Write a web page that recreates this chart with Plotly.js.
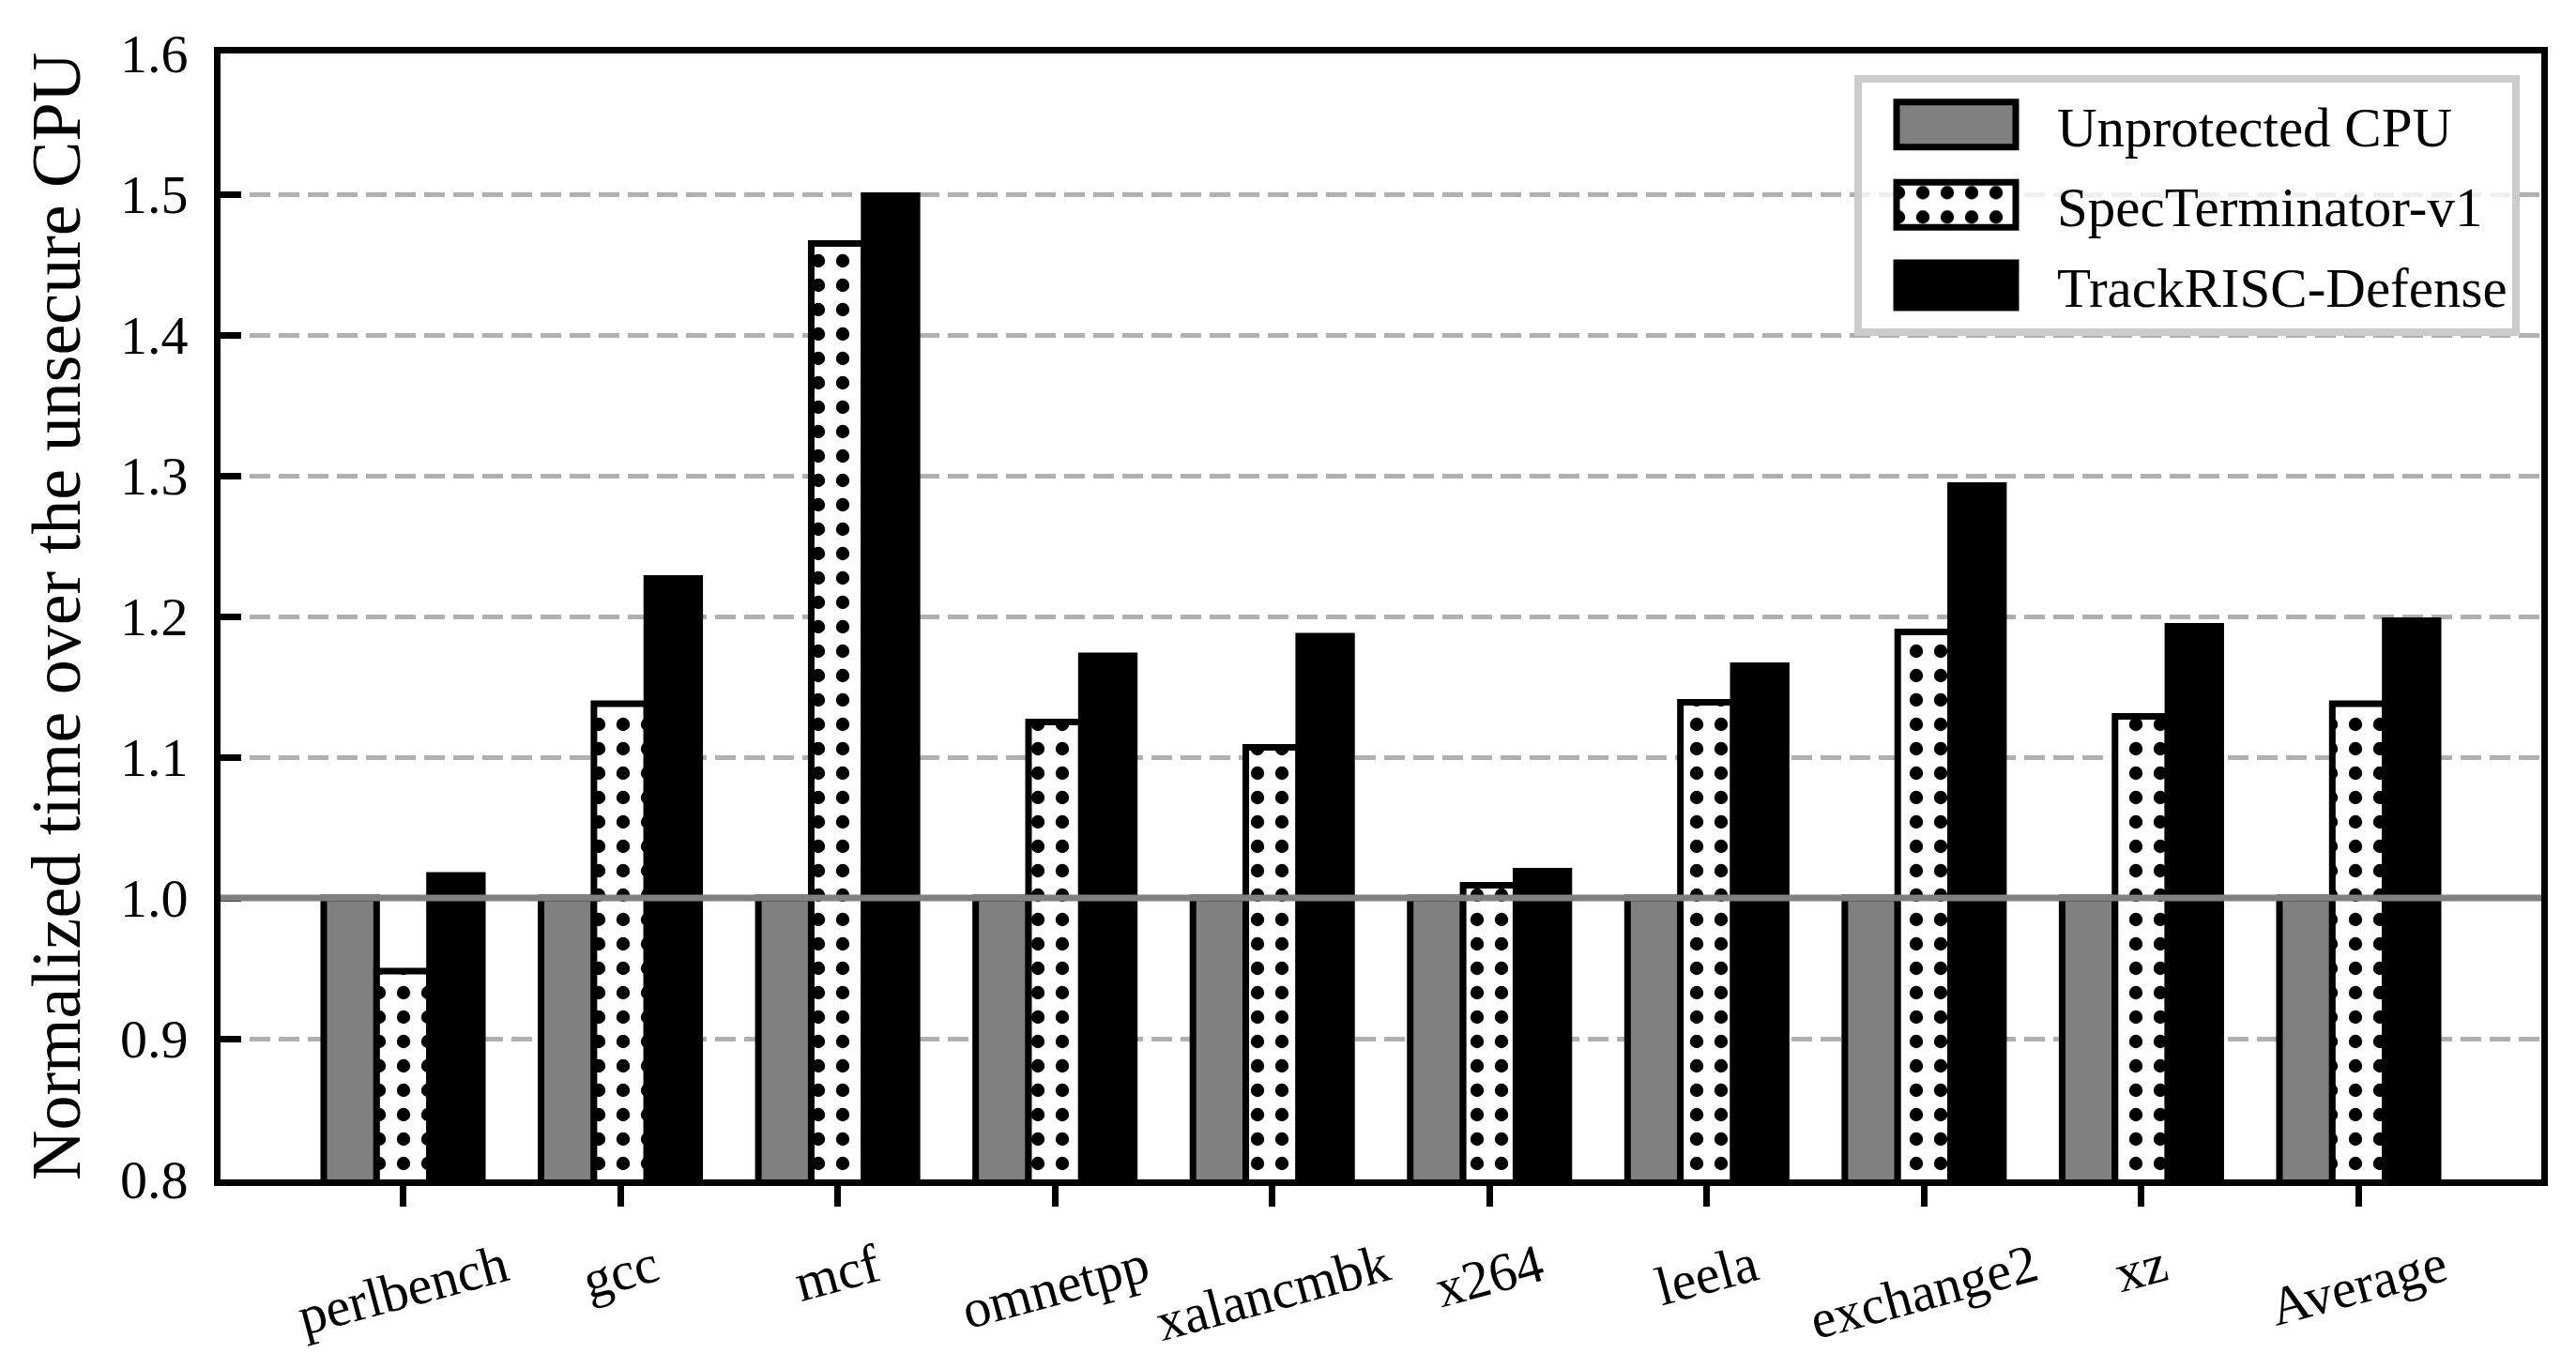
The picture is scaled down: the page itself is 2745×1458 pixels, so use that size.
<!DOCTYPE html>
<html>
<head>
<meta charset="utf-8">
<script src="https://cdn.plot.ly/plotly-3.0.1.min.js"></script>
<style>
  html, body { margin: 0; padding: 0; background: #ffffff; }
  #chart { width: 2745px; height: 1458px; }
</style>
</head>
<body>
<div id="chart"></div>
<script>
// ---- data ----
const categories = ['perlbench', 'gcc', 'mcf', 'omnetpp', 'xalancmbk', 'x264', 'leela', 'exchange2', 'xz', 'Average'];
const unprotectedCPU = [1.0, 1.0, 1.0, 1.0, 1.0, 1.0, 1.0, 1.0, 1.0, 1.0];
const specTerminatorV1 = [0.948, 1.138, 1.465, 1.125, 1.107, 1.009, 1.139, 1.189, 1.129, 1.138];
const trackRiscDefense = [1.016, 1.227, 1.499, 1.172, 1.186, 1.019, 1.165, 1.293, 1.193, 1.197];
const seriesNames = ['Unprotected CPU', 'SpecTerminator-v1', 'TrackRISC-Defense'];
const yTickValues = [0.8, 0.9, 1.0, 1.1, 1.2, 1.3, 1.4, 1.5, 1.6];
const baselineValue = 1.0;
const yTitle = 'Normalized time over the unsecure CPU';

const FONT = 'Liberation Serif, Times New Roman, serif';
const EDGE = 7;

const traces = [
  {
    type: 'bar', name: seriesNames[0], x: categories, y: unprotectedCPU,
    marker: { color: '#808080', line: { color: '#000000', width: EDGE } },
    legendgroup: 'a', hoverinfo: 'skip'
  },
  {
    type: 'bar', name: seriesNames[1], x: categories, y: specTerminatorV1,
    marker: {
      color: '#ffffff',
      line: { color: '#000000', width: EDGE },
      pattern: { shape: '.', fgcolor: '#000000', bgcolor: '#ffffff', size: 26, solidity: 0.24, fillmode: 'replace' }
    },
    legendgroup: 'b', hoverinfo: 'skip'
  },
  {
    type: 'bar', name: seriesNames[2], x: categories, y: trackRiscDefense,
    marker: { color: '#000000', line: { color: '#000000', width: EDGE } },
    legendgroup: 'c', hoverinfo: 'skip'
  }
];

const labelAnnotations = categories.map(c => ({
  x: c, xref: 'x', y: -0.045, yref: 'paper',
  text: c, showarrow: false, textangle: -15,
  xanchor: 'center', yanchor: 'top',
  font: { family: FONT, size: 58, color: '#000000' }
}));

const layout = {
  width: 2745, height: 1458,
  margin: { l: 235, r: 37, t: 57, b: 201, pad: 0 },
  paper_bgcolor: '#ffffff', plot_bgcolor: '#ffffff',
  font: { family: FONT, size: 58, color: '#000000' },
  barmode: 'group', bargap: 0.27, bargroupgap: 0,
  showlegend: true,
  legend: {
    x: 0.9907, xanchor: 'right', y: 0.981, yanchor: 'top',
    bgcolor: 'rgba(255,255,255,0.8)', bordercolor: '#cccccc', borderwidth: 8,
    font: { family: FONT, size: 59, color: '#000000' },
    itemwidth: 198, tracegroupgap: 6, traceorder: 'grouped'
  },
  xaxis: {
    type: 'category', range: [-0.84, 9.84],
    showline: true, linecolor: '#000000', linewidth: EDGE, mirror: true,
    ticks: 'outside', ticklen: 22, tickwidth: EDGE, tickcolor: '#000000',
    showticklabels: false, showgrid: false, zeroline: false, fixedrange: true
  },
  yaxis: {
    range: [0.8, 1.6], tickvals: yTickValues, tickformat: '.1f',
    showline: true, linecolor: '#000000', linewidth: EDGE, mirror: true,
    ticks: 'inside', ticklen: 22, tickwidth: EDGE, tickcolor: '#000000',
    tickfont: { family: FONT, size: 58, color: '#000000' },
    ticklabelstandoff: 16,
    showgrid: true, gridcolor: '#b0b0b0', gridwidth: 5, griddash: '22px,9px',
    zeroline: false, layer: 'above traces', fixedrange: true,
    title: { text: yTitle, font: { family: FONT, size: 74, color: '#000000' }, standoff: 21 }
  },
  shapes: [{
    type: 'line', xref: 'paper', x0: 0, x1: 1, yref: 'y', y0: baselineValue, y1: baselineValue,
    line: { color: '#808080', width: 7 }, layer: 'above'
  }],
  annotations: labelAnnotations
};

const gd = document.getElementById('chart');
Plotly.newPlot(gd, traces, layout, { displayModeBar: false, staticPlot: true }).then(() => {
  const barTraces = gd.querySelectorAll('.barlayer .trace');
  const legendPaths = gd.querySelectorAll('.legend .legendpoints path');
  legendPaths.forEach((p, i) => {
    p.setAttribute('d', 'M60,24H-67V-24H60Z');
    p.style.strokeWidth = EDGE + 'px';
    if (i === 1 && barTraces[1]) {
      const bp = barTraces[1].querySelector('.point path');
      if (bp && bp.style.fill) p.style.fill = bp.style.fill;
    }
  });
});
</script>
</body>
</html>
